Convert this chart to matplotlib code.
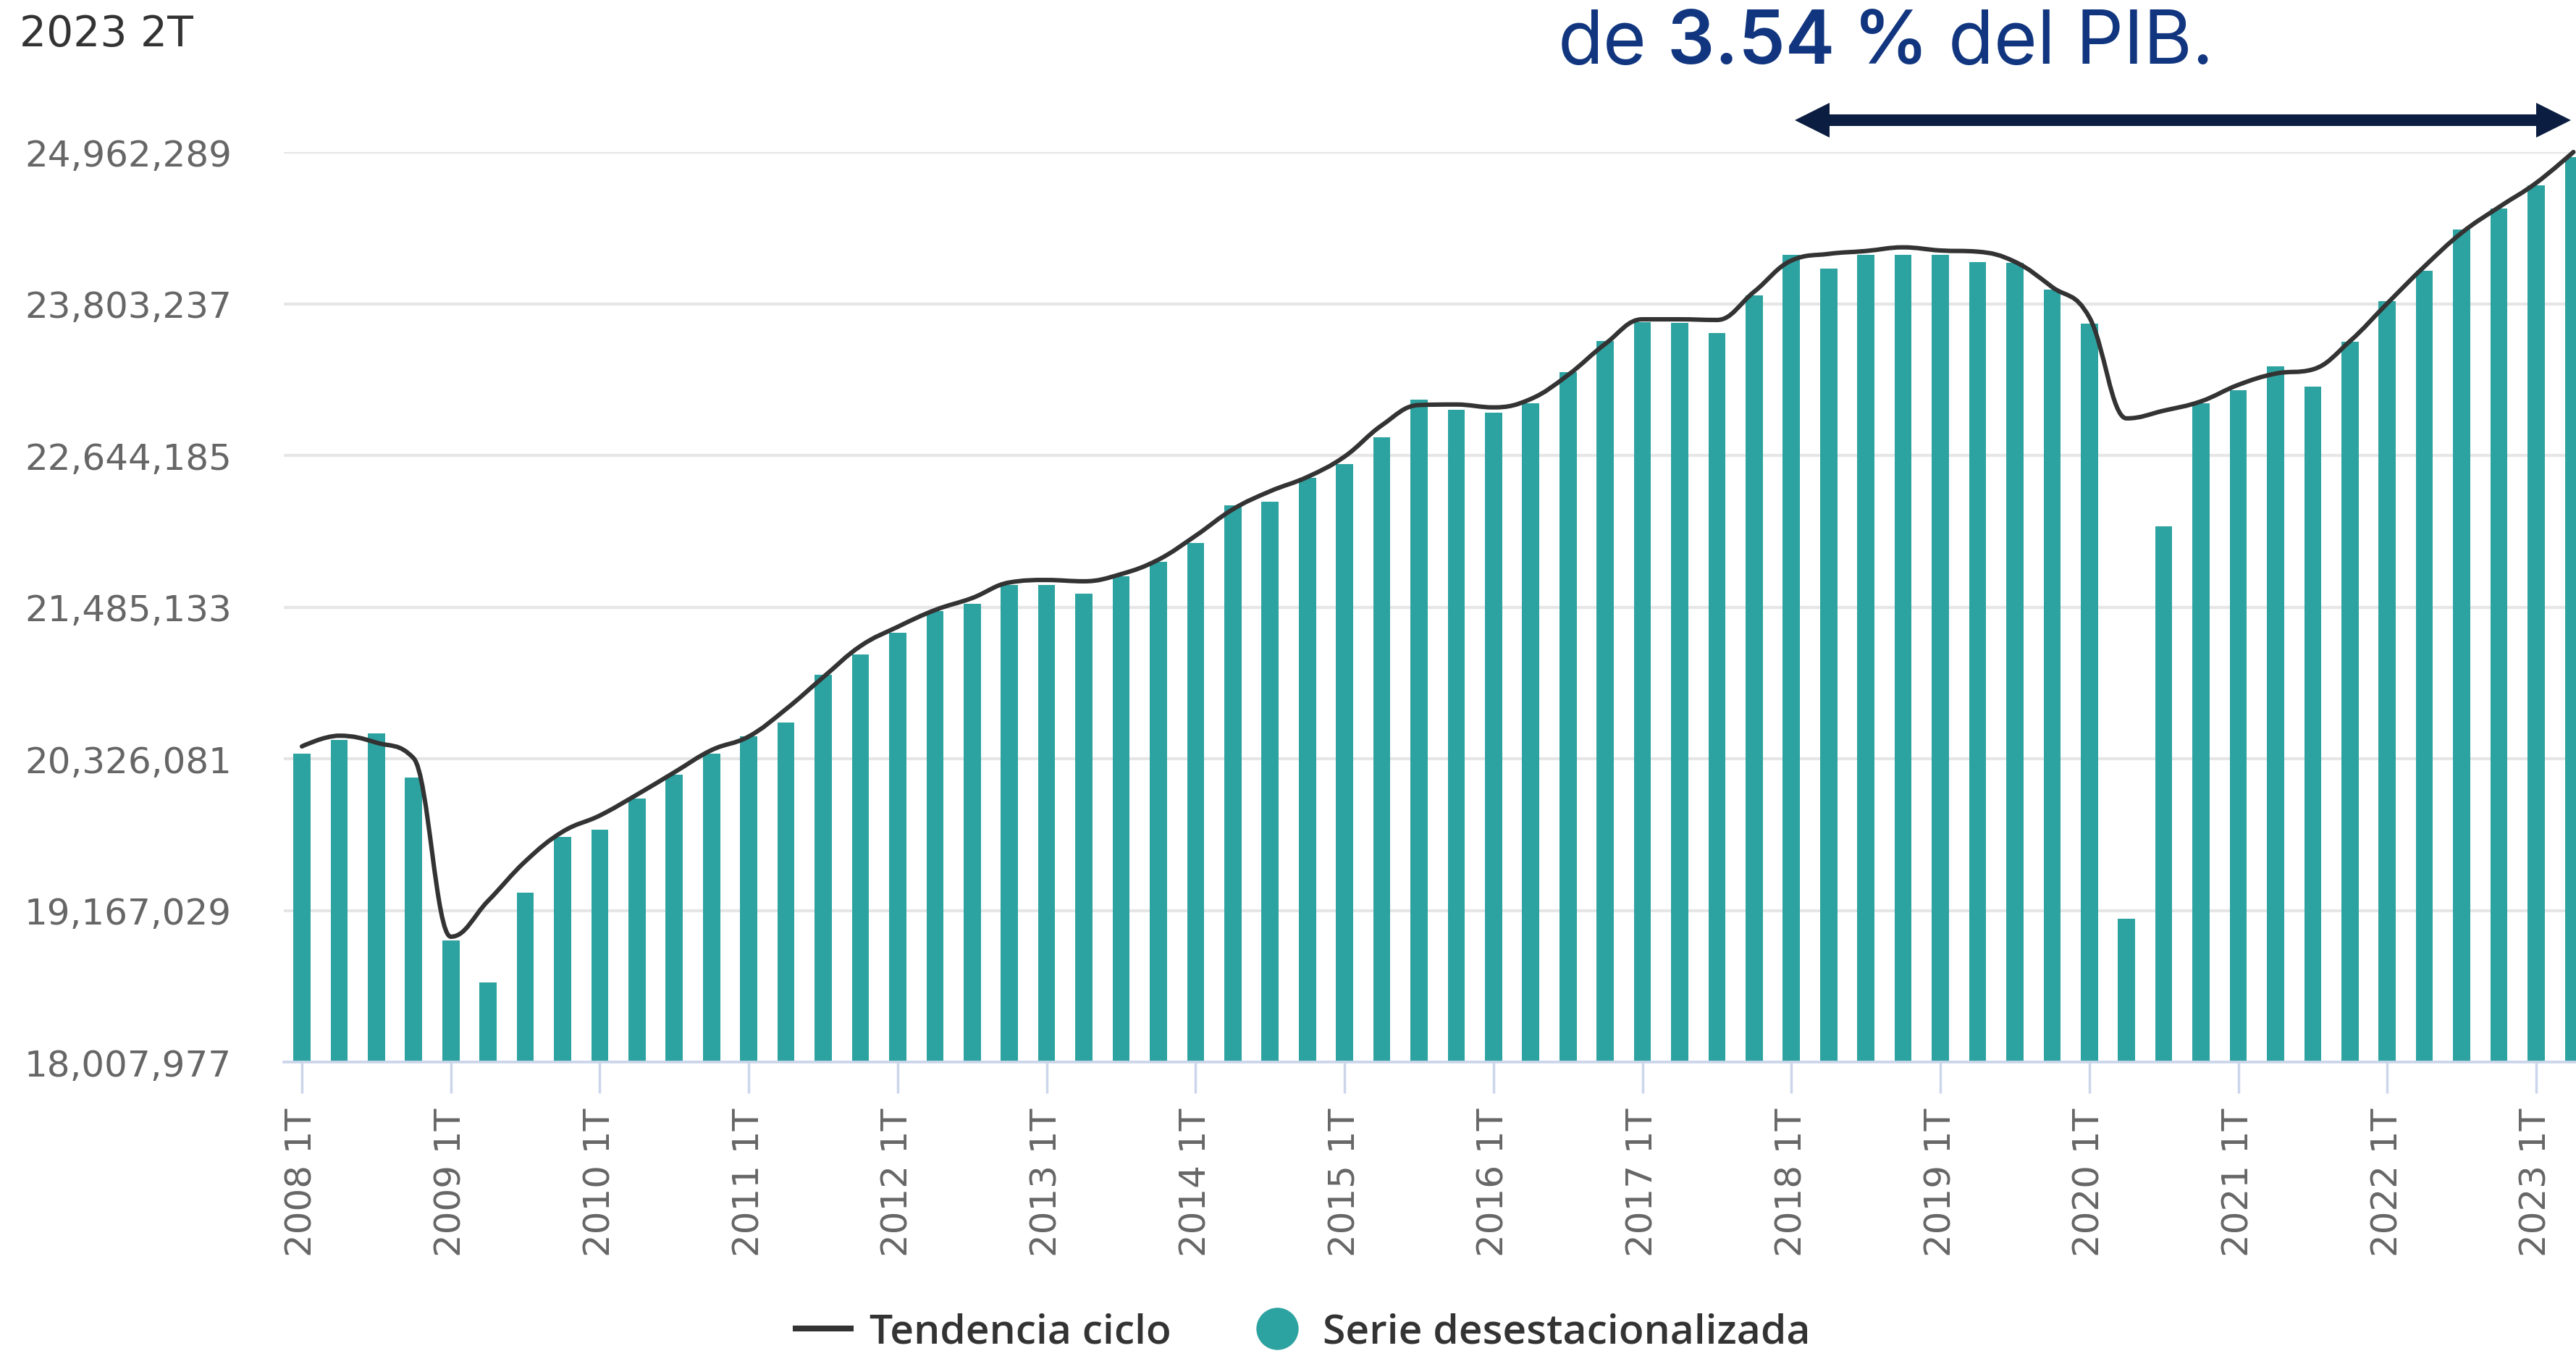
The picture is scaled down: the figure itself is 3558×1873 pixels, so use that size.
import matplotlib
matplotlib.use("Agg")
import matplotlib.pyplot as plt
import numpy as np
from matplotlib.path import Path
from matplotlib.patches import PathPatch, Polygon
from matplotlib.lines import Line2D

# ---------------- data ----------------
categories = [f"{y} {q}T" for y in range(2008, 2024) for q in range(1, 5)][:62]

serie_desestacionalizada = [
    20366000, 20471000, 20522000, 20180000, 18935000, 18616000, 19304000, 19729000,
    19784000, 20020000, 20203000, 20366000, 20496000, 20600000, 20967000, 21121000,
    21288000, 21453000, 21510000, 21655000, 21655000, 21587000, 21719000, 21829000,
    21975000, 22260000, 22290000, 22470000, 22576000, 22785000, 23071000, 22994000,
    22969000, 23044000, 23280000, 23518000, 23662000, 23657000, 23580000, 23867000,
    24179000, 24074000, 24179000, 24179000, 24179000, 24124000, 24115000, 23913000,
    23650000, 19104000, 22100000, 23045000, 23144000, 23324000, 23171000, 23513000,
    23821000, 24057000, 24371000, 24529000, 24710000, 24923000,
]

tendencia_ciclo = [
    20420000, 20502000, 20449000, 20330000, 18966000, 19240000, 19542000, 19768000,
    19892000, 20052000, 20222000, 20392000, 20496000, 20705000, 20949000, 21187000,
    21334000, 21462000, 21554000, 21673000, 21692000, 21682000, 21737000, 21847000,
    22030000, 22232000, 22370000, 22479000, 22635000, 22874000, 23029000, 23033000,
    23011000, 23075000, 23258000, 23496000, 23684000, 23684000, 23679000, 23895000,
    24133000, 24184000, 24206000, 24234000, 24210000, 24201000, 24124000, 23931000,
    23700000, 22927000, 22986000, 23057000, 23183000, 23269000, 23301000, 23517000,
    23805000, 24088000, 24345000, 24541000, 24726000, 24962289,
]

ytick_values = [18007977, 19167029, 20326081, 21485133, 22644185, 23803237, 24962289]
ytick_labels = ["18,007,977", "19,167,029", "20,326,081", "21,485,133",
                "22,644,185", "23,803,237", "24,962,289"]
xtick_labels = ["2008 1T", "2009 1T", "2010 1T", "2011 1T", "2012 1T", "2013 1T",
                "2014 1T", "2015 1T", "2016 1T", "2017 1T", "2018 1T", "2019 1T",
                "2020 1T", "2021 1T", "2022 1T", "2023 1T"]
period_label = "2023 2T"
title_parts = ["de", "3.54 %", "del PIB."]
legend_labels = ["Tendencia ciclo", "Serie desestacionalizada"]

# ---------------- style ----------------
W, H = 3558, 1874
TEAL = "#2da3a1"
DARK = "#333333"
GRID = "#e6e6e6"
AXIS = "#ccd6eb"
NAVY_TXT = "#11367f"
NAVY_ARROW = "#0b1d40"

fig = plt.figure(figsize=(W / 100, H / 100), dpi=100)
ax_left, ax_right, ax_top, ax_bottom = 392, W, 211, 1468
ax = fig.add_axes([ax_left / W, 1 - ax_bottom / H, (ax_right - ax_left) / W,
                   (ax_bottom - ax_top) / H])

x = np.arange(len(categories))
ax.bar(x, serie_desestacionalizada, width=0.46, color=TEAL, zorder=2)


def hc_spline_path(xs, ys, smoothing=1.5):
    n = len(xs)
    lc = [(xs[i], ys[i]) for i in range(n)]
    rc = [(xs[i], ys[i]) for i in range(n)]
    denom = smoothing + 1
    for i in range(1, n - 1):
        px, py = xs[i], ys[i]
        lx, ly = xs[i - 1], ys[i - 1]
        nx, ny = xs[i + 1], ys[i + 1]
        lcx = (smoothing * px + lx) / denom
        lcy = (smoothing * py + ly) / denom
        rcx = (smoothing * px + nx) / denom
        rcy = (smoothing * py + ny) / denom
        if rcx != lcx:
            corr = (rcy - lcy) * (rcx - px) / (rcx - lcx) + py - rcy
            lcy += corr
            rcy += corr
        if lcy > ly and lcy > py:
            lcy = max(ly, py); rcy = 2 * py - lcy
        elif lcy < ly and lcy < py:
            lcy = min(ly, py); rcy = 2 * py - lcy
        if rcy > ny and rcy > py:
            rcy = max(ny, py); lcy = 2 * py - rcy
        elif rcy < ny and rcy < py:
            rcy = min(ny, py); lcy = 2 * py - rcy
        lc[i] = (lcx, lcy)
        rc[i] = (rcx, rcy)
    verts = [(xs[0], ys[0])]
    codes = [Path.MOVETO]
    for i in range(1, n):
        verts += [rc[i - 1], lc[i], (xs[i], ys[i])]
        codes += [Path.CURVE4] * 3
    return Path(verts, codes)


trend_path = hc_spline_path(list(x.astype(float)), [float(v) for v in tendencia_ciclo])
ax.add_patch(PathPatch(trend_path, facecolor="none", edgecolor=DARK, lw=4.4,
                       zorder=3, clip_on=False, capstyle="round", joinstyle="round"))

ax.set_xlim(-0.486, 61.07)
ax.set_ylim(ytick_values[0], ytick_values[-1])

# grid / spines
ax.set_yticks(ytick_values)
ax.set_yticklabels(ytick_labels)
ax.yaxis.grid(True, color=GRID, lw=3.0, zorder=0)
ax.set_axisbelow(True)
for s in ["top", "right", "left"]:
    ax.spines[s].set_visible(False)
ax.spines["bottom"].set_color(AXIS)
ax.spines["bottom"].set_linewidth(2.7)
ax.spines["bottom"].set_zorder(4)

ax.set_xticks(x[::4][:len(xtick_labels)])
ax.set_xticklabels(xtick_labels, rotation=90)
ax.tick_params(axis="x", length=31, width=2.5, color=AXIS, pad=14,
               labelsize=36, labelcolor="#666666")
ax.tick_params(axis="y", length=0, pad=52, labelsize=36, labelcolor="#666666")
for lab in ax.get_xticklabels() + ax.get_yticklabels():
    lab.set_family("DejaVu Sans")

# period label top-left
fig.text(27 / W, 1 - 19 / H, period_label, fontsize=42, color=DARK,
         family="DejaVu Sans", ha="left", va="top")

# title pieces
renderer = fig.canvas.get_renderer()
cur_x = 2152
base_y = 1 - 88 / H
tsize = 74
weights = ["normal", 600, "normal"]
for i, (part, wgt) in enumerate(zip(title_parts, weights)):
    t = fig.text(cur_x / W, base_y, part, fontsize=tsize, color=NAVY_TXT,
                 family="Inter", weight=wgt, ha="left", va="baseline")
    bb = t.get_window_extent(renderer=renderer)
    cur_x = bb.x1 + tsize * 1.389 * 0.27

# double arrow
ay = H - 167
xl, xr = 2479, 3551
hl, hw, sw = 48, 24, 8
pts = [(xl, ay), (xl + hl, ay + hw), (xl + hl, ay + sw), (xr - hl, ay + sw),
       (xr - hl, ay + hw), (xr, ay), (xr - hl, ay - hw), (xr - hl, ay - sw),
       (xl + hl, ay - sw), (xl + hl, ay - hw)]
pts = [(px / W, py / H) for px, py in pts]
fig.patches.append(Polygon(pts, closed=True, transform=fig.transFigure,
                           facecolor=NAVY_ARROW, edgecolor="none"))

# legend
handles = [Line2D([], [], color=DARK, lw=5.8),
           Line2D([], [], marker="o", linestyle="None", markersize=41, color=TEAL)]
fig.legend(handles, legend_labels, loc="center", bbox_to_anchor=(1800 / W, 1 - 1842 / H),
           ncol=2, frameon=False, handlelength=1.33, handletextpad=0.45,
           columnspacing=1.9, borderaxespad=0, borderpad=0,
           prop={"family": "Open Sans", "weight": "semibold", "size": 41},
           labelcolor=DARK)

fig.savefig("out.png", dpi=100)
